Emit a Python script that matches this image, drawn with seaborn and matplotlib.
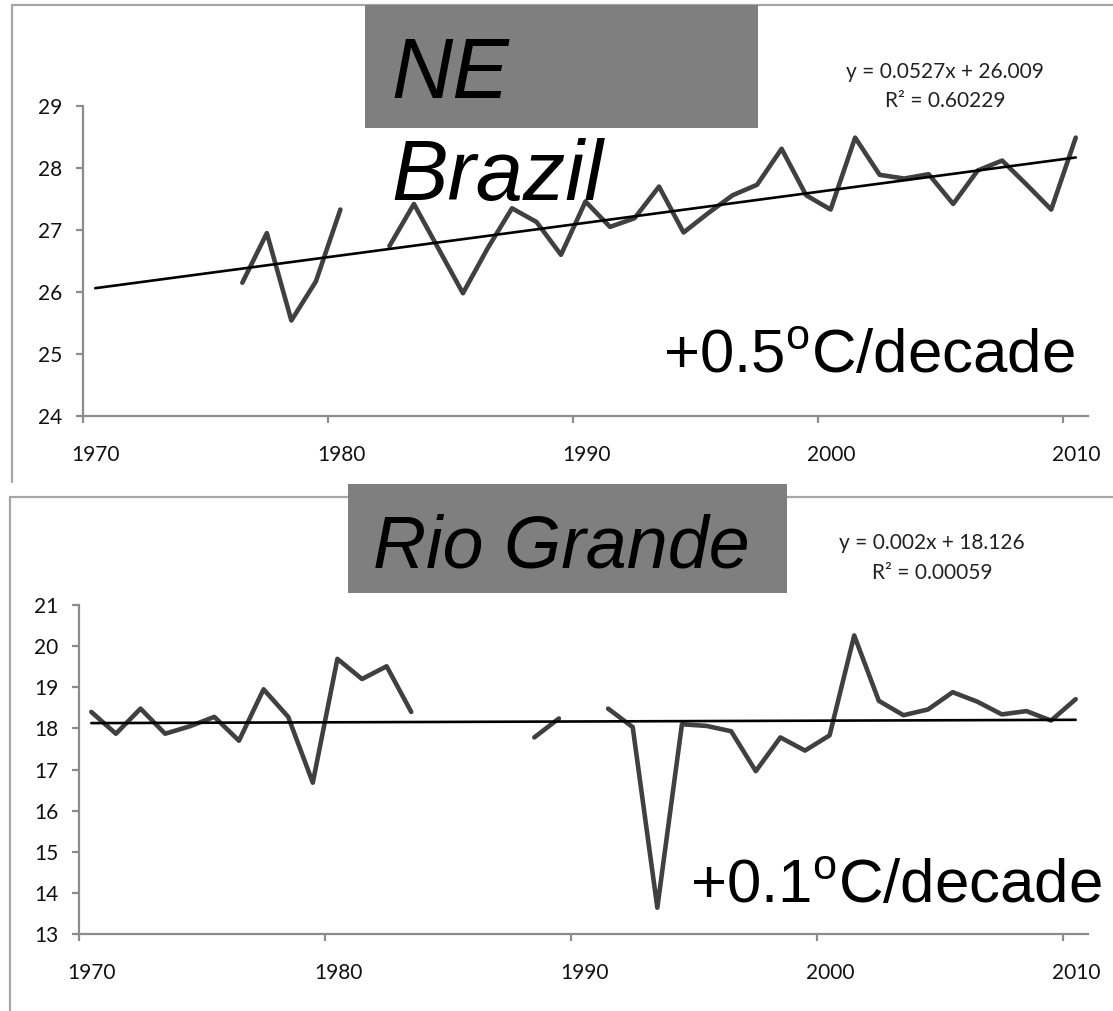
import numpy as np
import pandas as pd
import matplotlib
matplotlib.use("Agg")
import matplotlib.pyplot as plt
import matplotlib.transforms as mtransforms
from matplotlib.patches import Rectangle
from matplotlib.lines import Line2D
import seaborn as sns

# annual mean temperature, one value per year 1970-2010 (nan = no data)
years = list(range(1970, 2011))
nan = np.nan
ne_brazil = [nan, nan, nan, nan, nan, nan,
             26.15, 26.95, 25.54, 26.17, 27.33, nan, 26.74, 27.42, 26.70,
             25.98, 26.70, 27.35, 27.13, 26.60, 27.46, 27.05, 27.19, 27.70,
             26.96, 27.27, 27.56, 27.73, 28.31, 27.56, 27.33, 28.49, 27.89,
             27.83, 27.90, 27.42, 27.96, 28.12, 27.73, 27.33, 28.49]
rio_grande = [18.40, 17.87, 18.48, 17.87, 18.05, 18.28, 17.70, 18.95, 18.28,
              16.68, 19.69, 19.20, 19.51, 18.40, nan, nan, nan, nan, 17.78,
              18.24, nan, 18.48, 18.03, 13.64, 18.10, 18.06, 17.93, 16.96,
              17.78, 17.46, 17.83, 20.26, 18.67, 18.32, 18.46, 18.88, 18.65,
              18.34, 18.42, 18.19, 18.71]

# excel trendline fits (x = 1..41)
ne_fit = (0.0527, 26.009, "0.60229")
rg_fit = (0.002, 18.126, "0.00059")

xticks = [1970, 1980, 1990, 2000, 2010]
ne_yticks = [24, 25, 26, 27, 28, 29]
rg_yticks = list(range(13, 22))

W, H = 1113, 1011
AXIS_GREY = "#8c8c8c"
FRAME_GREY = "#a6a6a6"

sns.set_style("white")
plt.rcParams["font.family"] = ["Lato", "DejaVu Sans"]
plt.rcParams["mathtext.fontset"] = "custom"
plt.rcParams["mathtext.rm"] = "Liberation Sans"

fig = plt.figure(figsize=(W / 100, H / 100), dpi=100)


def fx(x):
    return x / W


def fy(y):
    return 1 - y / H


def draw_panel(ax, values, fit, ylim, yticks):
    df = pd.DataFrame({"year": years, "temp": values})
    df["pos"] = df["year"] + 0.5
    df["seg"] = df["temp"].isna().cumsum()
    df = df.dropna()
    sns.lineplot(data=df, x="pos", y="temp", units="seg", estimator=None,
                 color="#404040", lw=3.3, solid_capstyle="round",
                 solid_joinstyle="round", ax=ax)

    slope, intercept, _ = fit
    idx = np.arange(1, len(years) + 1)
    trend = pd.DataFrame({"pos": np.array(years) + 0.5,
                          "fit": slope * idx + intercept})
    sns.lineplot(data=trend, x="pos", y="fit", color="black", lw=1.9, ax=ax)

    ax.set_xlim(1970, 2011)
    ax.set_ylim(*ylim)
    ax.set_xticks(xticks)
    ax.set_yticks(yticks)
    ax.set_xlabel("")
    ax.set_ylabel("")
    sns.despine(ax=ax)
    for s in ["left", "bottom"]:
        ax.spines[s].set_color(AXIS_GREY)
        ax.spines[s].set_linewidth(1.6)
    ax.tick_params(axis="both", length=5, width=1.6, color=AXIS_GREY,
                   labelsize=15, labelcolor="#111111", direction="out",
                   bottom=True, left=True)
    ax.tick_params(axis="x", pad=16)
    ax.tick_params(axis="y", pad=10)
    shift = mtransforms.ScaledTranslation(13 / 100, 0, fig.dpi_scale_trans)
    for lab in ax.get_xticklabels():
        lab.set_transform(lab.get_transform() + shift)


# top panel: NE Brazil
ax1 = fig.add_axes([fx(83), fy(416), fx(1088) - fx(83), fy(106) - fy(416)])
draw_panel(ax1, ne_brazil, ne_fit, (24, 29), ne_yticks)

# bottom panel: Rio Grande
ax2 = fig.add_axes([fx(79), fy(934), fx(1088) - fx(79), fy(605) - fy(934)])
draw_panel(ax2, rio_grande, rg_fit, (13, 21), rg_yticks)

# chart frames
for x0, y0, y1 in [(12, 5, 482), (10, 497, H)]:
    fig.add_artist(Line2D([fx(x0), fx(x0)], [fy(y0), fy(y1)], color=FRAME_GREY,
                          lw=1.6, transform=fig.transFigure))
    fig.add_artist(Line2D([fx(x0), 1], [fy(y0), fy(y0)], color=FRAME_GREY,
                          lw=1.6, transform=fig.transFigure))

# grey title boxes
for x0, y0, x1, y1 in [(365, 5, 758, 128), (348, 484, 787, 593)]:
    fig.add_artist(Rectangle((fx(x0), fy(y1)), fx(x1) - fx(x0), fy(y0) - fy(y1),
                             facecolor="#7f7f7f", edgecolor="none",
                             transform=fig.transFigure, zorder=2))

title_kw = dict(family="Liberation Sans", style="italic", color="black",
                ha="left", va="baseline", zorder=5)
fig.text(fx(391), fy(98), "NE", fontsize=61, **title_kw)
fig.text(fx(391), fy(200), "Brazil", fontsize=61, **title_kw)
fig.text(fx(373), fy(567), "Rio Grande", fontsize=53, **title_kw)

eq_kw = dict(ha="center", va="center", fontsize=15, color="#222222", zorder=5)
fig.text(fx(945), fy(72), f"y = {ne_fit[0]}x + {ne_fit[1]}", **eq_kw)
fig.text(fx(945), fy(101), f"R² = {ne_fit[2]}", **eq_kw)
fig.text(fx(932), fy(543), f"y = {rg_fit[0]}x + {rg_fit[1]}", **eq_kw)
fig.text(fx(932), fy(573), f"R² = {rg_fit[2]}", **eq_kw)

rate_kw = dict(family="Liberation Sans", fontsize=44.5, color="black",
               ha="left", va="baseline", zorder=5)
fig.text(fx(663), fy(373), r"+0.5$^{\mathrm{o}}$C/decade", **rate_kw)
fig.text(fx(690), fy(903), r"+0.1$^{\mathrm{o}}$C/decade", **rate_kw)

fig.savefig("out.png", dpi=100, facecolor="white")
